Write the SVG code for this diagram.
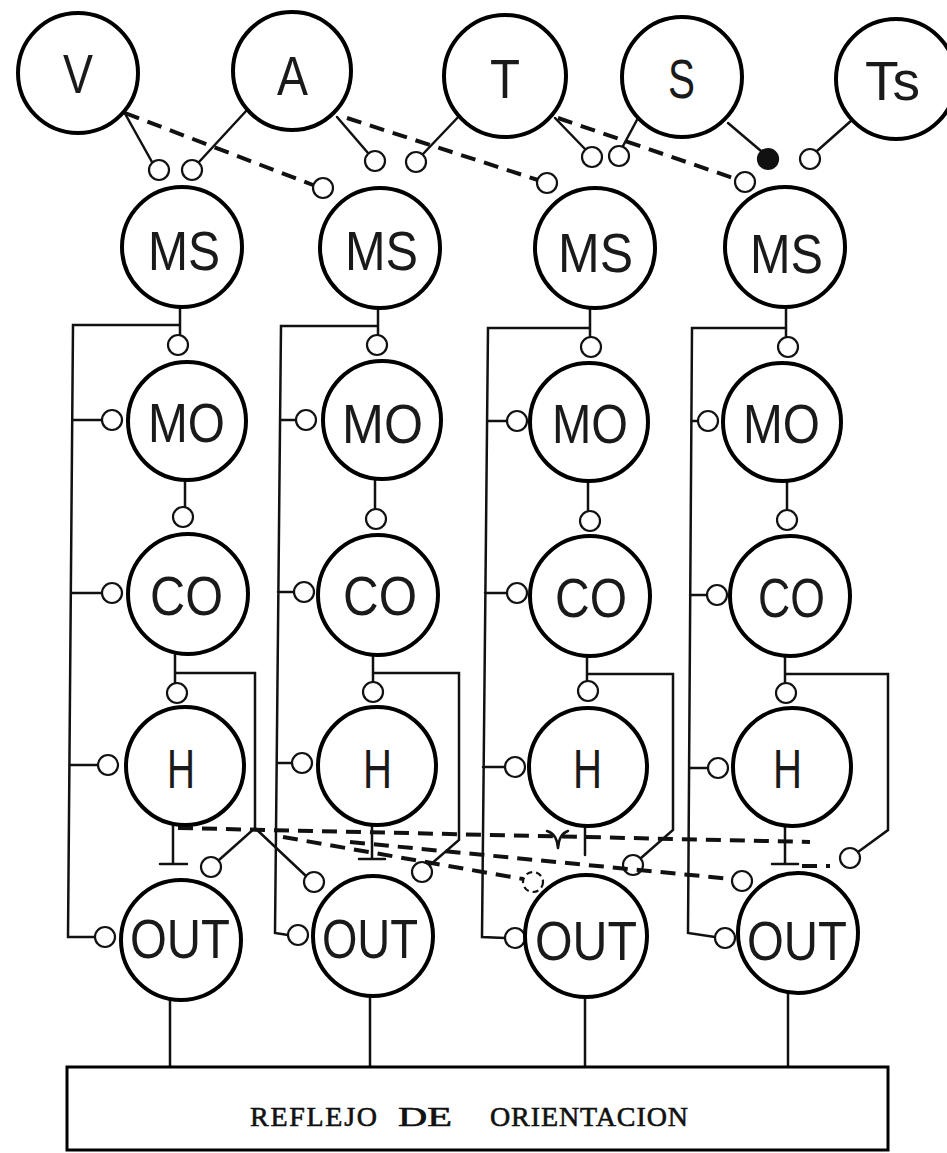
<svg xmlns="http://www.w3.org/2000/svg" width="947" height="1153" viewBox="0 0 947 1153">
  <style>
    .n { fill: #fff; stroke: #000; stroke-width: 4; }
    .lbl { font-family: "Liberation Sans", Arial, sans-serif; font-size: 56px; fill: #1a1a1a; }
    .w { fill: none; stroke: #111; stroke-width: 2.5; stroke-linecap: round; }
    .d { fill: none; stroke: #111; stroke-width: 4; stroke-dasharray: 15 9; }
    .syn { fill: #fff; stroke: #111; stroke-width: 2.2; }
    .syn-dark { fill: #111; stroke: #111; stroke-width: 2.2; }
    .box { fill: #fff; stroke: #000; stroke-width: 3; }
    .cap { font-family: "Liberation Serif", "Times New Roman", serif; font-size: 28px; fill: #111; stroke: #111; stroke-width: 0.6; }
  </style>
  <rect width="947" height="1153" fill="#fff"/>

  <!-- connectors and synaptic endings -->
  <g id="connectors">
    <!-- sensory inputs to MS -->
    <line class="w" x1="123" y1="110" x2="152" y2="162"/>
    <line class="w" x1="247" y1="110" x2="199" y2="162"/>
    <line class="d" x1="125" y1="113" x2="313" y2="185"/>
    <line class="w" x1="337" y1="117" x2="368" y2="153"/>
    <line class="w" x1="462" y1="113" x2="423" y2="154"/>
    <line class="d" x1="347" y1="118" x2="538" y2="180"/>
    <line class="w" x1="555" y1="118" x2="585" y2="149"/>
    <line class="w" x1="638" y1="118" x2="623" y2="146"/>
    <line class="d" x1="558" y1="118" x2="736" y2="179"/>
    <line class="w" x1="728" y1="123" x2="761" y2="151"/>
    <line class="w" x1="852" y1="120" x2="817" y2="151"/>
    <circle class="syn" cx="159" cy="170" r="10"/>
    <circle class="syn" cx="192" cy="170" r="10"/>
    <circle class="syn" cx="323" cy="188" r="10"/>
    <circle class="syn" cx="375" cy="161" r="10"/>
    <circle class="syn" cx="416" cy="162" r="10"/>
    <circle class="syn" cx="547" cy="183" r="10"/>
    <circle class="syn" cx="592" cy="157" r="10"/>
    <circle class="syn" cx="619" cy="156" r="10"/>
    <circle class="syn" cx="745" cy="182" r="10"/>
    <circle class="syn-dark" cx="768" cy="159" r="10"/>
    <circle class="syn" cx="810" cy="159" r="10"/>

    <!-- column 1 -->
    <path class="w" d="M180 307 V335 M180 325 H73 L68 937 H95 M73 420 H102 M72 593 H102 M70 765 H98"/>
    <path class="w" d="M185 480 V507 M175 654 V683 M176 673 H255 V828 L219 860 M255 828 L306 876"/>
    <path class="w" d="M173 825 V863 M160 864 H187 M170 1000 V1067"/>
    <circle class="syn" cx="178" cy="345" r="10"/>
    <circle class="syn" cx="112" cy="420" r="10"/>
    <circle class="syn" cx="112" cy="593" r="10"/>
    <circle class="syn" cx="108" cy="765" r="10"/>
    <circle class="syn" cx="105" cy="937" r="10"/>
    <circle class="syn" cx="183" cy="517" r="10"/>
    <circle class="syn" cx="177" cy="693" r="10"/>
    <circle class="syn" cx="211" cy="867" r="10"/>
    <circle class="syn" cx="314" cy="882" r="10"/>

    <!-- column 2 -->
    <path class="w" d="M378 307 V335 M378 326 H281 L275 933 L288 935 M280 420 H296 M278 592 H294 M277 763 H292"/>
    <path class="w" d="M375 480 V508 M373 655 V682 M373 673 H459 V840 L430 865"/>
    <path class="w" d="M372 825 V858 M359 859 H385 M370 995 V1067"/>
    <circle class="syn" cx="377" cy="345" r="10"/>
    <circle class="syn" cx="306" cy="420" r="10"/>
    <circle class="syn" cx="304" cy="592" r="10"/>
    <circle class="syn" cx="302" cy="763" r="10"/>
    <circle class="syn" cx="298" cy="935" r="10"/>
    <circle class="syn" cx="376" cy="519" r="10"/>
    <circle class="syn" cx="373" cy="692" r="10"/>
    <circle class="syn" cx="422" cy="872" r="10"/>

    <!-- column 3 -->
    <path class="w" d="M590 308 V337 M590 328 H488 L482 937 L505 938 M487 421 H507 M485 593 H507 M483 767 H505"/>
    <path class="w" d="M588 481 V510 M587 656 V681 M587 674 H673 V830 L641 858"/>
    <path class="w" d="M585 827 V855 M585 997 V1067"/>
    <circle class="syn" cx="591" cy="347" r="10"/>
    <circle class="syn" cx="517" cy="421" r="10"/>
    <circle class="syn" cx="517" cy="593" r="10"/>
    <circle class="syn" cx="515" cy="767" r="10"/>
    <circle class="syn" cx="515" cy="938" r="10"/>
    <circle class="syn" cx="590" cy="521" r="10"/>
    <circle class="syn" cx="588" cy="691" r="10"/>
    <circle class="syn" cx="633" cy="865" r="10"/>

    <!-- column 4 -->
    <path class="w" d="M786 307 V337 M786 328 H692 L688 933 L715 937 M692 421 H698 M690 595 H707 M690 768 H708"/>
    <path class="w" d="M787 481 V510 M785 656 V683 M785 674 H888 V830 L858 852"/>
    <path class="w" d="M785 826 V863 M772 864 H798 M788 993 V1067"/>
    <circle class="syn" cx="788" cy="347" r="10"/>
    <circle class="syn" cx="708" cy="421" r="10"/>
    <circle class="syn" cx="717" cy="595" r="10"/>
    <circle class="syn" cx="718" cy="768" r="10"/>
    <circle class="syn" cx="725" cy="938" r="10"/>
    <circle class="syn" cx="787" cy="520" r="10"/>
    <circle class="syn" cx="786" cy="693" r="10"/>
    <circle class="syn" cx="850" cy="858" r="10"/>

    <!-- crossed dashed pathways between H and OUT rows -->
    <line class="d" x1="178" y1="828" x2="810" y2="842"/>
    <line class="d" x1="283" y1="837" x2="523" y2="879"/>
    <line class="d" x1="350" y1="842" x2="732" y2="879"/>
    <line class="d" x1="802" y1="866" x2="830" y2="866"/>
    <path class="w" d="M547 831 Q557 834 558 848 M568 831 Q559 834 558 848"/>
    <circle class="syn" cx="533" cy="882" r="10" stroke-dasharray="6 4"/>
    <circle class="syn" cx="742" cy="881" r="10"/>
  </g>

  <!-- sensory nodes -->
  <g id="node-V"><circle class="n" cx="78" cy="73" r="60"/><text class="lbl" x="63" y="93" textLength="30" lengthAdjust="spacingAndGlyphs">V</text></g>
  <g id="node-A"><circle class="n" cx="292" cy="71" r="59"/><text class="lbl" x="277" y="95" textLength="31" lengthAdjust="spacingAndGlyphs">A</text></g>
  <g id="node-T"><circle class="n" cx="505" cy="76" r="61"/><text class="lbl" x="490" y="98" textLength="30" lengthAdjust="spacingAndGlyphs">T</text></g>
  <g id="node-S"><circle class="n" cx="682" cy="77" r="60"/><text class="lbl" x="668" y="98" textLength="27" lengthAdjust="spacingAndGlyphs">S</text></g>
  <g id="node-Ts"><circle class="n" cx="896" cy="79" r="60"/><text class="lbl" x="865" y="100" textLength="55" lengthAdjust="spacingAndGlyphs">Ts</text></g>

  <!-- MS row -->
  <g id="node-MS1"><circle class="n" cx="182" cy="247" r="60"/><text class="lbl" x="148" y="270" textLength="72" lengthAdjust="spacingAndGlyphs">MS</text></g>
  <g id="node-MS2"><circle class="n" cx="380" cy="248" r="60"/><text class="lbl" x="345" y="270" textLength="73" lengthAdjust="spacingAndGlyphs">MS</text></g>
  <g id="node-MS3"><circle class="n" cx="595" cy="248" r="60"/><text class="lbl" x="558" y="272" textLength="75" lengthAdjust="spacingAndGlyphs">MS</text></g>
  <g id="node-MS4"><circle class="n" cx="785" cy="247" r="60"/><text class="lbl" x="750" y="273" textLength="73" lengthAdjust="spacingAndGlyphs">MS</text></g>

  <!-- MO row -->
  <g id="node-MO1"><circle class="n" cx="187" cy="421" r="59"/><text class="lbl" x="148" y="442" textLength="77" lengthAdjust="spacingAndGlyphs">MO</text></g>
  <g id="node-MO2"><circle class="n" cx="382" cy="420" r="59"/><text class="lbl" x="342" y="443" textLength="81" lengthAdjust="spacingAndGlyphs">MO</text></g>
  <g id="node-MO3"><circle class="n" cx="589" cy="422" r="59"/><text class="lbl" x="552" y="443" textLength="76" lengthAdjust="spacingAndGlyphs">MO</text></g>
  <g id="node-MO4"><circle class="n" cx="782" cy="422" r="59"/><text class="lbl" x="743" y="443" textLength="77" lengthAdjust="spacingAndGlyphs">MO</text></g>

  <!-- CO row -->
  <g id="node-CO1"><circle class="n" cx="188" cy="594" r="60"/><text class="lbl" x="150" y="615" textLength="73" lengthAdjust="spacingAndGlyphs">CO</text></g>
  <g id="node-CO2"><circle class="n" cx="378" cy="595" r="60"/><text class="lbl" x="343" y="615" textLength="74" lengthAdjust="spacingAndGlyphs">CO</text></g>
  <g id="node-CO3"><circle class="n" cx="590" cy="596" r="60"/><text class="lbl" x="555" y="617" textLength="72" lengthAdjust="spacingAndGlyphs">CO</text></g>
  <g id="node-CO4"><circle class="n" cx="790" cy="596" r="60"/><text class="lbl" x="758" y="617" textLength="67" lengthAdjust="spacingAndGlyphs">CO</text></g>

  <!-- H row -->
  <g id="node-H1"><circle class="n" cx="185" cy="766" r="59"/><text class="lbl" x="167" y="788" textLength="28" lengthAdjust="spacingAndGlyphs">H</text></g>
  <g id="node-H2"><circle class="n" cx="377" cy="766" r="59"/><text class="lbl" x="363" y="788" textLength="29" lengthAdjust="spacingAndGlyphs">H</text></g>
  <g id="node-H3"><circle class="n" cx="588" cy="767" r="59"/><text class="lbl" x="573" y="788" textLength="29" lengthAdjust="spacingAndGlyphs">H</text></g>
  <g id="node-H4"><circle class="n" cx="792" cy="767" r="59"/><text class="lbl" x="773" y="788" textLength="29" lengthAdjust="spacingAndGlyphs">H</text></g>

  <!-- OUT row -->
  <g id="node-OUT1"><circle class="n" cx="181" cy="940" r="60"/><text class="lbl" x="130" y="958" textLength="100" lengthAdjust="spacingAndGlyphs">OUT</text></g>
  <g id="node-OUT2"><circle class="n" cx="373" cy="936" r="60"/><text class="lbl" x="322" y="958" textLength="96" lengthAdjust="spacingAndGlyphs">OUT</text></g>
  <g id="node-OUT3"><circle class="n" cx="586" cy="936" r="61"/><text class="lbl" x="535" y="960" textLength="102" lengthAdjust="spacingAndGlyphs">OUT</text></g>
  <g id="node-OUT4"><circle class="n" cx="798" cy="933" r="60"/><text class="lbl" x="747" y="960" textLength="100" lengthAdjust="spacingAndGlyphs">OUT</text></g>

  <!-- output stage -->
  <g id="node-reflejo">
    <rect class="box" x="67" y="1067" width="821" height="83"/>
    <text class="cap" x="250" y="1126" textLength="127" lengthAdjust="spacing">REFLEJO</text>
    <text class="cap" x="398" y="1126" textLength="54" lengthAdjust="spacingAndGlyphs">DE</text>
    <text class="cap" x="490" y="1126" textLength="198" lengthAdjust="spacing">ORIENTACION</text>
  </g>
</svg>
